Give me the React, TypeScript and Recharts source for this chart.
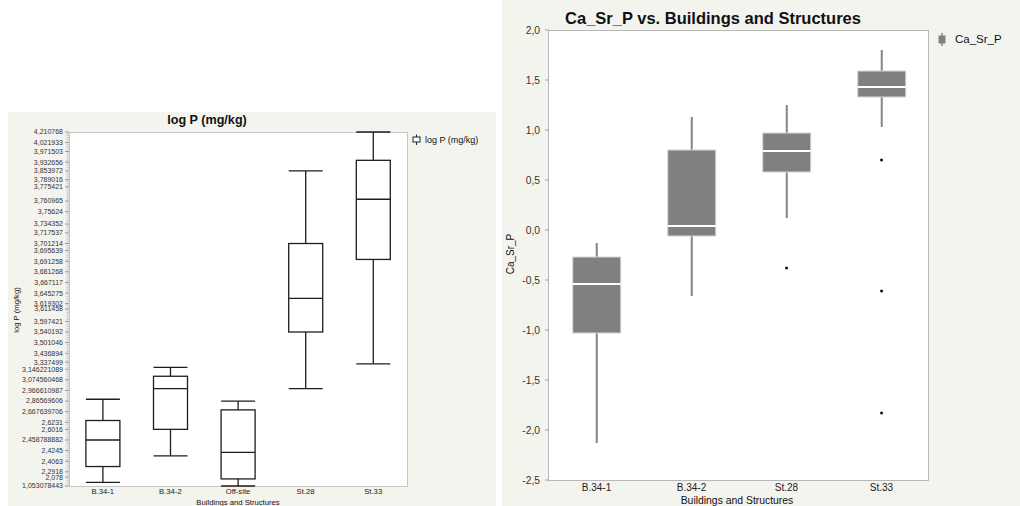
import React from "react";
import { ComposedChart, Bar, Scatter, XAxis, YAxis } from "recharts";

const FONT = "'Liberation Sans', Arial, Helvetica, sans-serif";
const PANEL_BG = "#f4f4ef";

// left chart: log P (mg/kg), y axis is ordinal (rank of each distinct value)
const sites = ["B.34-1", "B.34-2", "Off-site", "St.28", "St.33"];
const logPMin = [2, 17, 0, 55, 69];
const logPQ1 = [11, 32, 4, 87, 128];
const logPMedian = [26, 55, 19, 106, 162];
const logPQ3 = [37, 62, 43, 137, 184];
const logPMax = [49, 67, 48, 178, 200];

const logPTickLabels = [
  "1,053078443", "2,078", "2,2918", "2,4063", "2,4245", "2,458788882", "2,6016",
  "2,6231", "2,667639706", "2,86569606", "2,966610987", "3,074560468", "3,146221089",
  "3,337499", "3,436894", "3,501046", "3,540192", "3,597421", "3,611458", "3,619302",
  "3,645275", "3,667117", "3,681268", "3,691258", "3,695639", "3,701214", "3,717537",
  "3,734352", "3,75624", "3,760965", "3,775421", "3,789016", "3,853972", "3,932656",
  "3,971503", "4,021933", "4,210768",
];
const logPTickRanks = [
  0, 5, 8, 14, 20, 26, 32, 36, 42, 48, 54, 60, 66, 70, 75, 81, 87, 93, 100, 103,
  109, 115, 121, 127, 133, 137, 143, 148, 155, 161, 169, 173, 178, 183, 189, 194, 200,
];
const logPRankCount = 200;

// right chart: Ca_Sr_P
const buildings = ["B.34-1", "B.34-2", "St.28", "St.33"];
const caMin = [-2.13, -0.66, 0.12, 1.03];
const caQ1 = [-1.03, -0.06, 0.58, 1.33];
const caMedian = [-0.54, 0.04, 0.79, 1.43];
const caQ3 = [-0.27, 0.8, 0.97, 1.59];
const caMax = [-0.13, 1.13, 1.25, 1.8];
const caOutliers = [[], [], [-0.38], [0.7, -0.61, -1.83]];
const caTicks = [-2.5, -2, -1.5, -1, -0.5, 0, 0.5, 1, 1.5, 2];

const logPData = sites.map((name, i) => ({
  name,
  min: logPMin[i],
  q1: logPQ1[i],
  median: logPMedian[i],
  q3: logPQ3[i],
  max: logPMax[i],
}));

const caData = buildings.map((name, i) => ({
  name,
  min: caMin[i],
  q1: caQ1[i],
  median: caMedian[i],
  q3: caQ3[i],
  max: caMax[i],
  o1: caOutliers[i][0] ?? null,
  o2: caOutliers[i][1] ?? null,
  o3: caOutliers[i][2] ?? null,
}));

type BoxStyle = {
  fill: string;
  stroke: string;
  strokeWidth: number;
  whisker: string;
  whiskerWidth: number;
  median: string;
  medianWidth: number;
  caps: boolean;
};

const makeBox = (s: BoxStyle) => (props: any) => {
  const { x, y, width, height, payload } = props;
  if (!payload || !Number.isFinite(y) || !Number.isFinite(height)) return <g />;
  const top = Math.min(y, y + height);
  const h = Math.abs(height);
  const span = payload.max - payload.min || 1;
  const toY = (v: number) => top + ((payload.max - v) / span) * h;
  const cx = x + width / 2;
  const yQ3 = toY(payload.q3);
  const yQ1 = toY(payload.q1);
  const yMed = toY(payload.median);
  return (
    <g>
      <line x1={cx} x2={cx} y1={top} y2={top + h} stroke={s.whisker} strokeWidth={s.whiskerWidth} />
      {s.caps && (
        <>
          <line x1={x} x2={x + width} y1={top} y2={top} stroke={s.whisker} strokeWidth={s.whiskerWidth} />
          <line x1={x} x2={x + width} y1={top + h} y2={top + h} stroke={s.whisker} strokeWidth={s.whiskerWidth} />
        </>
      )}
      <rect x={x} y={yQ3} width={width} height={yQ1 - yQ3} fill={s.fill} stroke={s.stroke} strokeWidth={s.strokeWidth} />
      <line x1={x} x2={x + width} y1={yMed} y2={yMed} stroke={s.median} strokeWidth={s.medianWidth} />
    </g>
  );
};

const logPBox = makeBox({
  fill: "#ffffff",
  stroke: "#1e1e1e",
  strokeWidth: 1.3,
  whisker: "#1e1e1e",
  whiskerWidth: 1.3,
  median: "#1e1e1e",
  medianWidth: 1.3,
  caps: true,
});

const caBox = makeBox({
  fill: "#808080",
  stroke: "#d6d6d6",
  strokeWidth: 1,
  whisker: "#858585",
  whiskerWidth: 2,
  median: "#ffffff",
  medianWidth: 2,
  caps: false,
});

const outlierShape = (key: string) => (props: any) => {
  const { cx, cy, payload } = props;
  if (!payload || payload[key] == null || !Number.isFinite(cy)) return <g />;
  return <rect x={cx - 1.2} y={cy - 1.2} width={2.5} height={2.5} fill="#000" />;
};

const LogPTick = (props: any) => {
  const { x, y, payload } = props;
  const idx = logPTickRanks.indexOf(payload.value);
  if (idx < 0) {
    return <line x1={x - 2.5} x2={x} y1={y} y2={y} stroke="#bdbdbd" strokeWidth={0.8} />;
  }
  return (
    <g>
      <line x1={x - 4} x2={x} y1={y} y2={y} stroke="#8a8a8a" strokeWidth={0.9} />
      <text x={x - 6} y={y} dy="0.35em" textAnchor="end" fontSize={7} fontFamily={FONT} fill="#333">
        {logPTickLabels[idx]}
      </text>
    </g>
  );
};

const rankTicks = Array.from({ length: logPRankCount + 1 }, (_, i) => i);

const Label = ({
  x,
  y,
  text,
  size,
  bold,
  rotate,
  align,
}: {
  x: number;
  y: number;
  text: string;
  size: number;
  bold?: boolean;
  rotate?: boolean;
  align?: "left";
}) => (
  <div
    style={{
      position: "absolute",
      left: x,
      top: y,
      transform: `${align === "left" ? "translate(0,-50%)" : "translate(-50%,-50%)"}${rotate ? " rotate(-90deg)" : ""}`,
      fontFamily: FONT,
      fontSize: size,
      fontWeight: bold ? "bold" : "normal",
      color: "#111",
      whiteSpace: "nowrap",
      lineHeight: 1,
    }}
  >
    {text}
  </div>
);

const abs = (left: number, top: number, width: number, height: number, extra: React.CSSProperties = {}) =>
  ({ position: "absolute", left, top, width, height, boxSizing: "border-box", ...extra }) as React.CSSProperties;

export default function App() {
  return (
    <div style={abs(0, 0, 1020, 506, { background: "#ffffff", overflow: "hidden" })}>
      {/* left panel */}
      <div style={abs(8, 112, 488, 394, { background: PANEL_BG })} />
      <div style={abs(69, 132, 339, 355, { background: "#fff", border: "1px solid #c6c6c6" })} />
      <div style={abs(8, 112, 488, 394)}>
        <ComposedChart
          width={488}
          height={394}
          data={logPData}
          margin={{ top: 20, right: 89, bottom: 0, left: 0 }}
          barCategoryGap="25%"
        >
          <XAxis
            dataKey="name"
            type="category"
            height={20}
            axisLine={false}
            tickLine={false}
            tickSize={0}
            tickMargin={3}
            interval={0}
            tick={{ fontSize: 7.7, fontFamily: FONT, fill: "#222" }}
          />
          <YAxis
            type="number"
            domain={[0, logPRankCount]}
            ticks={rankTicks}
            interval={0}
            width={61}
            axisLine={false}
            tickLine={false}
            tickSize={0}
            tickMargin={0}
            tick={<LogPTick />}
          />
          <Bar
            dataKey={(d: any) => [d.min, d.max]}
            shape={logPBox}
            isAnimationActive={false}
          />
        </ComposedChart>
      </div>
      <Label x={207} y={120} text="log P (mg/kg)" size={12.6} bold />
      <Label x={17} y={310} text="log P (mg/kg)" size={7.7} rotate />
      <Label x={238} y={503} text="Buildings and Structures" size={7.7} />
      <svg style={abs(412, 134, 10, 12)} width={10} height={12}>
        <line x1={4.5} x2={4.5} y1={0.5} y2={11} stroke="#222" strokeWidth={1} />
        <rect x={1} y={3} width={7} height={5} fill="#fff" stroke="#222" strokeWidth={1} />
      </svg>
      <Label x={425} y={140} text="log P (mg/kg)" size={9} align="left" />

      {/* right panel */}
      <div style={abs(502, 0, 518, 506, { background: PANEL_BG })} />
      <div style={abs(548, 30, 381, 451, { background: "#fff", border: "1px solid #b8b8b8" })} />
      <div style={abs(502, 0, 518, 506)}>
        <ComposedChart
          width={518}
          height={506}
          data={caData}
          margin={{ top: 30, right: 91, bottom: 0, left: 0 }}
          barCategoryGap="25%"
        >
          <XAxis
            dataKey="name"
            type="category"
            height={26}
            axisLine={false}
            tickLine={false}
            tickSize={0}
            tickMargin={4}
            interval={0}
            tick={{ fontSize: 10, fontFamily: FONT, fill: "#222" }}
          />
          <YAxis
            type="number"
            domain={[-2.5, 2]}
            ticks={caTicks}
            interval={0}
            width={47}
            axisLine={false}
            tickLine={{ stroke: "#a0a0a0" }}
            tickSize={4}
            tickMargin={5}
            tickFormatter={(v: number) => v.toFixed(1).replace(".", ",")}
            tick={{ fontSize: 10.3, fontFamily: FONT, fill: "#333" }}
          />
          <Bar dataKey={(d: any) => [d.min, d.max]} shape={caBox} isAnimationActive={false} />
          <Scatter dataKey="o1" shape={outlierShape("o1")} isAnimationActive={false} />
          <Scatter dataKey="o2" shape={outlierShape("o2")} isAnimationActive={false} />
          <Scatter dataKey="o3" shape={outlierShape("o3")} isAnimationActive={false} />
        </ComposedChart>
      </div>
      <Label x={713} y={17.5} text="Ca_Sr_P vs. Buildings and Structures" size={16.5} bold />
      <Label x={511} y={254} text="Ca_Sr_P" size={10} rotate />
      <Label x={737} y={500.5} text="Buildings and Structures" size={10.4} />
      <svg style={abs(937, 33, 10, 13)} width={10} height={13}>
        <line x1={5} x2={5} y1={0} y2={13} stroke="#858585" strokeWidth={1.5} />
        <rect x={1.5} y={2.5} width={7} height={8} fill="#808080" />
      </svg>
      <Label x={955} y={40} text="Ca_Sr_P" size={11.5} align="left" />
    </div>
  );
}
